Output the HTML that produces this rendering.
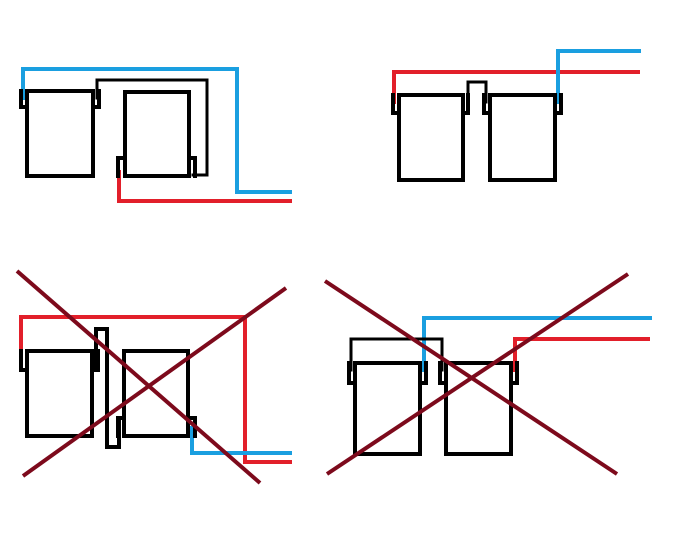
<!DOCTYPE html>
<html><head><meta charset="utf-8"><style>html,body{margin:0;padding:0;background:#fff}svg{display:block}</style></head>
<body>
<svg width="677" height="533" viewBox="0 0 677 533" xmlns="http://www.w3.org/2000/svg" fill="none" stroke-linecap="square">
<!-- Panel 1 -->
<g stroke-width="4">
<path d="M23,98 V69 H237 V192 H290" stroke="#1a9fe0"/>
<path d="M119,172 V201 H290" stroke="#e21f2a"/>
<path d="M97,98 V80 H207 V175 H193" stroke="#000" stroke-width="3"/>
<g stroke="#000">
<rect x="27" y="91" width="66" height="85"/>
<rect x="125" y="92" width="64" height="84"/>
<path d="M21,91 V107 H27 M99,91 V107 H93"/>
<path d="M118,176 V158 H124 M195,176 V158 H189"/>
</g>
</g>
<!-- Panel 2 -->
<g stroke-width="4">
<path d="M394,102 V72 H638" stroke="#e21f2a"/>
<path d="M558,102 V51 H639" stroke="#1a9fe0"/>
<path d="M468,102 V82 H486 V102" stroke="#000" stroke-width="3"/>
<g stroke="#000">
<rect x="399" y="95" width="64" height="85"/>
<rect x="490" y="95" width="65" height="85"/>
<path d="M393,95 V113 H399 M468,95 V113 H463"/>
<path d="M484,95 V113 H490 M561,95 V113 H555"/>
</g>
</g>
<!-- Panel 3 -->
<g stroke-width="4">
<path d="M21,358 V317 H245 V462 H290" stroke="#e21f2a"/>
<path d="M192,428 V453 H290" stroke="#1a9fe0"/>
<g stroke="#000">
<rect x="27" y="351" width="65" height="85"/>
<rect x="124" y="351" width="64" height="85"/>
<path d="M21,351 V370 H27 M98,351 V370 H92"/>
<path d="M96,366 V329 H107 V447 H119 V418"/>
<path d="M118,436 V418 H124 M195,436 V418 H188"/>
</g>
<path d="M17,271 L260,483 M23,476 L286,288" stroke="#7d0a1c" stroke-width="4" stroke-linecap="butt"/>
</g>
<!-- Panel 4 -->
<g stroke-width="4">
<path d="M424,370 V318 H650" stroke="#1a9fe0"/>
<path d="M515,370 V339 H648" stroke="#e21f2a"/>
<path d="M351,370 V339 H442 V370" stroke="#000" stroke-width="3"/>
<g stroke="#000">
<rect x="355" y="363" width="65" height="91"/>
<rect x="446" y="363" width="65" height="91"/>
<path d="M349,363 V383 H355 M426,363 V383 H420"/>
<path d="M440,363 V383 H446 M517,363 V383 H511"/>
</g>
<path d="M325,281 L617,474 M327,474 L628,274" stroke="#7d0a1c" stroke-width="4" stroke-linecap="butt"/>
</g>
</svg>
</body></html>
